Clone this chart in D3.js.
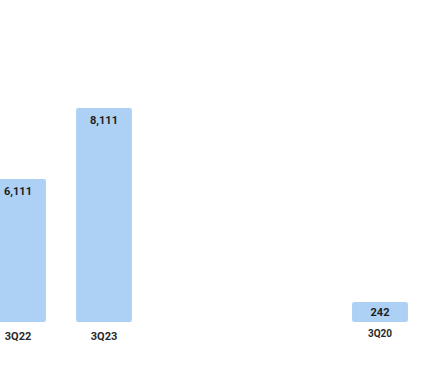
<!DOCTYPE html>
<html>
<head>
<meta charset="utf-8">
<script src="https://cdn.jsdelivr.net/npm/d3@7"></script>
<style>
  body { margin: 0; background: #fff; }
  svg { display: block; font-family: Roboto, "Noto Sans", sans-serif; }
</style>
</head>
<body>
<div id="chart"></div>
<script>
// main panel
const quarters = ["3Q22", "3Q23"];
const values = [6111, 8111];
// side panel
const sideQuarters = ["3Q20"];
const sideValues = [242];

const width = 438, height = 366;
const baseline = 322;

const svg = d3.select('#chart')
    .append('svg')
    .attr('width', width)
    .attr('height', height);

const x = d3.scaleBand()
    .domain(quarters)
    .range([-25, 147])
    .paddingInner(0.35)
    .paddingOuter(0.175);

const y = d3.scaleLinear()
    .domain([2090, 8111])
    .range([baseline, 108]);

const x2 = d3.scaleBand()
    .domain(sideQuarters)
    .range([337, 423])
    .paddingInner(0.35)
    .paddingOuter(0.175);

const y2 = d3.scaleLinear()
    .domain([0, 2600])
    .range([baseline, 108]);

const fmt = d3.format(',');
const barColor = '#acd1f5';

// main bars
const main = svg.append('g');
main.selectAll('rect')
    .data(quarters)
    .enter()
    .append('rect')
    .attr('x', d => x(d))
    .attr('y', (d, i) => y(values[i]))
    .attr('width', x.bandwidth())
    .attr('height', (d, i) => baseline - y(values[i]))
    .attr('rx', 2)
    .style('fill', barColor);

main.selectAll('.val')
    .data(quarters)
    .enter()
    .append('text')
    .attr('class', 'val')
    .attr('x', d => x(d) + x.bandwidth() / 2)
    .attr('y', (d, i) => y(values[i]) + 16)
    .attr('text-anchor', 'middle')
    .style('font-size', '11px')
    .style('font-weight', 'bold')
    .style('fill', '#1e1e1e')
    .text((d, i) => fmt(values[i]));

main.selectAll('.cat')
    .data(quarters)
    .enter()
    .append('text')
    .attr('class', 'cat')
    .attr('x', d => x(d) + x.bandwidth() / 2)
    .attr('y', baseline + 18)
    .attr('text-anchor', 'middle')
    .style('font-size', '11px')
    .style('font-weight', 'bold')
    .style('fill', '#2a2a2a')
    .text(d => d);

// side panel
const side = svg.append('g');
side.selectAll('rect')
    .data(sideQuarters)
    .enter()
    .append('rect')
    .attr('x', d => x2(d))
    .attr('y', (d, i) => y2(sideValues[i]))
    .attr('width', x2.bandwidth())
    .attr('height', (d, i) => baseline - y2(sideValues[i]))
    .attr('rx', 2)
    .style('fill', barColor);

side.selectAll('.val')
    .data(sideQuarters)
    .enter()
    .append('text')
    .attr('class', 'val')
    .attr('x', d => x2(d) + x2.bandwidth() / 2)
    .attr('y', (d, i) => y2(sideValues[i]) + 14)
    .attr('text-anchor', 'middle')
    .style('font-size', '11px')
    .style('font-weight', 'bold')
    .style('fill', '#1e1e1e')
    .text((d, i) => fmt(sideValues[i]));

side.selectAll('.cat')
    .data(sideQuarters)
    .enter()
    .append('text')
    .attr('class', 'cat')
    .attr('x', d => x2(d) + x2.bandwidth() / 2)
    .attr('y', baseline + 15)
    .attr('text-anchor', 'middle')
    .style('font-size', '10px')
    .style('font-weight', 'bold')
    .style('fill', '#2a2a2a')
    .text(d => d);
</script>
</body>
</html>
